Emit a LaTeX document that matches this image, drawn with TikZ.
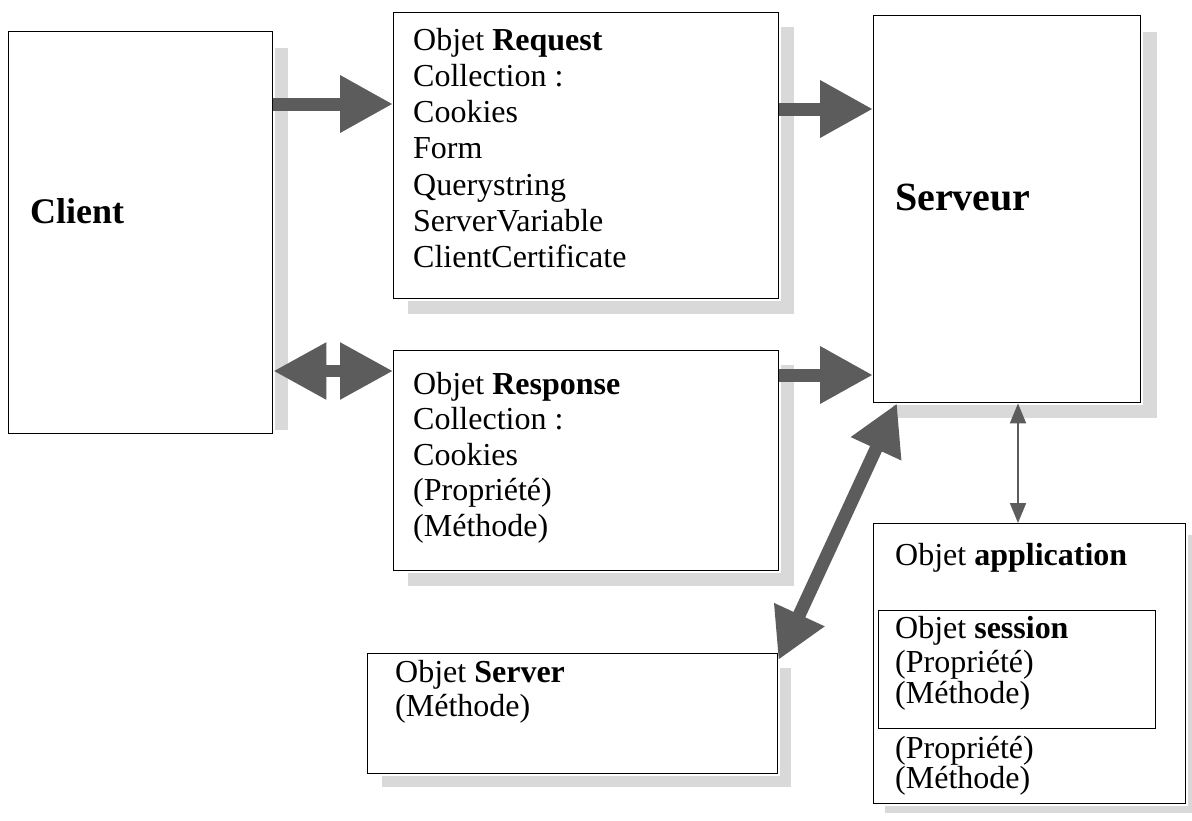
\documentclass[tikz,border=0pt]{standalone}
\usepackage{fontspec}
\setmainfont{Liberation Serif}
\usetikzlibrary{arrows.meta}
\pgfdeclarelayer{background}
\pgfsetlayers{background,main}
\definecolor{arrowgray}{gray}{0.36}
\definecolor{shadowgray}{gray}{0.85}

\begin{document}
\begin{tikzpicture}[x=1pt,y=-1pt,
  box/.style={draw=black,line width=1.4pt,fill=white,inner sep=0pt,anchor=north west},
  txt/.style={anchor=base west,inner sep=0pt,font=\fontsize{32}{36}\selectfont},
  bigtxt/.style={anchor=base west,inner sep=0pt,font=\fontsize{#1}{#1}\selectfont\bfseries},
  blockarrow/.style={draw=arrowgray,line width=13pt,-{Triangle[width=54pt,length=53pt]}},
  dblarrow/.style={draw=arrowgray,line width=12pt,{Triangle[width=54pt,length=53pt]}-{Triangle[width=54pt,length=53pt]}},
  diagarrow/.style={draw=arrowgray,line width=13pt,{Triangle[width=52pt,length=50pt]}-{Triangle[width=52pt,length=50pt]}},
  thinarrow/.style={draw=arrowgray,line width=2pt,{Triangle[width=16pt,length=20pt]}-{Triangle[width=16pt,length=20pt]}},
  shadow/.style={fill=shadowgray}
]
\useasboundingbox (0,0) rectangle (1192,820);

% boxes
\node[box,minimum width=264pt,minimum height=402pt] (client) at (8,31) {};
\node[box,minimum width=385pt,minimum height=286pt] (req) at (393,12) {};
\node[box,minimum width=267pt,minimum height=387pt] (serveur) at (873,15) {};
\node[box,minimum width=385pt,minimum height=220pt] (resp) at (393,350) {};
\node[box,minimum width=410pt,minimum height=120pt] (srvobj) at (367,653) {};
\node[box,minimum width=312pt,minimum height=280pt] (app) at (873,523) {};
\node[box,line width=1.1pt,minimum width=277pt,minimum height=118pt] (session) at (878,610) {};

% drop shadows
\begin{pgfonlayer}{background}
  \fill[shadow] (275,48) rectangle (288,430);
  \fill[shadow] ([shift={(2,15)}]req.north east) rectangle ([shift={(15,15)}]req.south east);
  \fill[shadow] ([shift={(15,2)}]req.south west) rectangle ([shift={(15,15)}]req.south east);
  \fill[shadow] ([shift={(2,17)}]serveur.north east) rectangle ([shift={(16,15)}]serveur.south east);
  \fill[shadow] ([shift={(20,2)}]serveur.south west) rectangle ([shift={(16,15)}]serveur.south east);
  \fill[shadow] ([shift={(2,15)}]resp.north east) rectangle ([shift={(15,15)}]resp.south east);
  \fill[shadow] ([shift={(15,2)}]resp.south west) rectangle ([shift={(15,15)}]resp.south east);
  \fill[shadow] ([shift={(2,15)}]srvobj.north east) rectangle ([shift={(13,13)}]srvobj.south east);
  \fill[shadow] ([shift={(15,2)}]srvobj.south west) rectangle ([shift={(13,13)}]srvobj.south east);
  \fill[shadow] ([shift={(2,12)}]app.north east) rectangle ([shift={(6,9)}]app.south east);
  \fill[shadow] ([shift={(12,2)}]app.south west) rectangle ([shift={(6,9)}]app.south east);
\end{pgfonlayer}

% labels
\node[bigtxt=36] (clientlbl) at (30,223) {Client};
\node[bigtxt=40] (serveurlbl) at (895,210) {Serveur};

\node[txt] (req0) at (413,50) {Objet \textbf{Request}};
\foreach \t [count=\i] in {Collection :,Cookies,Form,Querystring,ServerVariable,ClientCertificate}
  \node[txt] (req\i) at (413,50+36.3*\i) {\t};

\node[txt] (resp0) at (413,394) {Objet \textbf{Response}};
\foreach \t [count=\i] in {Collection :,Cookies,(Propriété),(Méthode)}
  \node[txt] (resp\i) at (413,394+35.5*\i) {\t};

\node[txt] (srv0) at (395,682) {Objet \textbf{Server}};
\node[txt] (srv1) at (395,716) {(Méthode)};

\node[txt] (app0) at (895,565) {Objet \textbf{application}};
\node[txt] (ses0) at (895,638) {Objet \textbf{session}};
\node[txt] (ses1) at (895,672) {(Propriété)};
\node[txt] (ses2) at (895,703) {(Méthode)};
\node[txt] (app1) at (895,758) {(Propriété)};
\node[txt] (app2) at (895,788) {(Méthode)};

% connectors
\draw[blockarrow] (client.east |- 0,104) -- (req.west |- 0,104);
\draw[blockarrow] (req.east |- 0,109) -- (serveur.west |- 0,109);
\draw[dblarrow] (client.east |- 0,371) -- (resp.west |- 0,371);
\draw[blockarrow] (resp.east |- 0,375) -- (serveur.west |- 0,375);
\draw[diagarrow] ([yshift=-7pt]srvobj.north east) -- ([xshift=24pt]serveur.south west);
\draw[thinarrow] (1018,0 |- serveur.south) -- (1018,0 |- app.north);
\end{tikzpicture}
\end{document}
